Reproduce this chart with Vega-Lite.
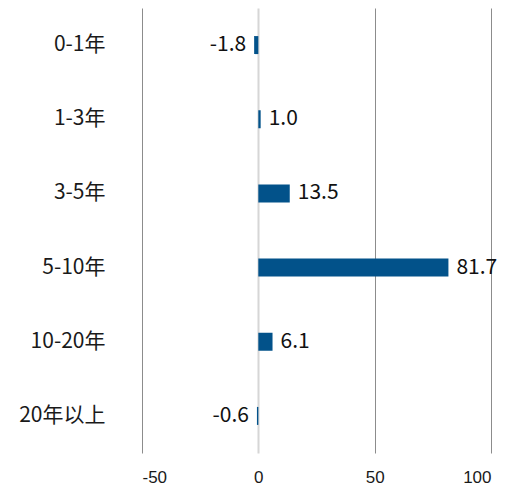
{
  "$schema": "https://vega.github.io/schema/vega-lite/v6.json",
  "autosize": "none",
  "width": 349,
  "height": 445,
  "padding": {"left": 142, "top": 8, "right": 39, "bottom": 38},
  "background": "white",
  "config": {"view": {"stroke": null}, "font": "Noto Sans CJK SC",
    "locale": {"number": {"decimal": ".", "thousands": ",", "grouping": [3], "currency": ["", ""], "minus": "-"}}},
  "data": {"values": [
    {"cat": "0-1年", "value": -1.8},
    {"cat": "1-3年", "value": 1.0},
    {"cat": "3-5年", "value": 13.5},
    {"cat": "5-10年", "value": 81.7},
    {"cat": "10-20年", "value": 6.1},
    {"cat": "20年以上", "value": -0.6}
  ]},
  "encoding": {
    "y": {"field": "cat", "type": "nominal", "sort": null, "title": null,
      "scale": {"paddingInner": 0, "paddingOuter": 0},
      "axis": {"domain": false, "ticks": false, "grid": false, "labelPadding": 37, "labelFontSize": 21, "labelColor": "#1a1a1a", "labelFont": "Noto Sans CJK SC"}},
    "x": {"field": "value", "type": "quantitative", "title": null,
      "scale": {"domain": [-50, 100], "nice": false, "zero": false},
      "axis": {"values": [-50, 0, 50, 100], "domain": false, "ticks": false, "labelPadding": 16, "labelFontSize": 17, "labelFont": "Liberation Sans Narrow, Liberation Sans", "labelColor": "#1a1a1a",
        "gridColor": {"condition": {"test": "datum.value === 0", "value": "#d6d6d6"}, "value": "#8c8c8c"},
        "gridWidth": {"condition": {"test": "datum.value === 0", "value": 2}, "value": 1}}}
  },
  "layer": [
    {"mark": {"type": "bar", "height": 18, "color": "#02528a"}},
    {"transform": [{"filter": "datum.value >= 0"}],
     "mark": {"type": "text", "align": "left", "dx": 8, "fontSize": 21, "color": "#111", "font": "Noto Sans CJK SC"},
     "encoding": {"text": {"field": "value", "type": "quantitative", "format": ".1f"}}},
    {"transform": [{"filter": "datum.value < 0"}],
     "mark": {"type": "text", "align": "right", "dx": -8, "fontSize": 21, "color": "#111", "font": "Noto Sans CJK SC"},
     "encoding": {"text": {"field": "value", "type": "quantitative", "format": ".1f"}}}
  ]
}
